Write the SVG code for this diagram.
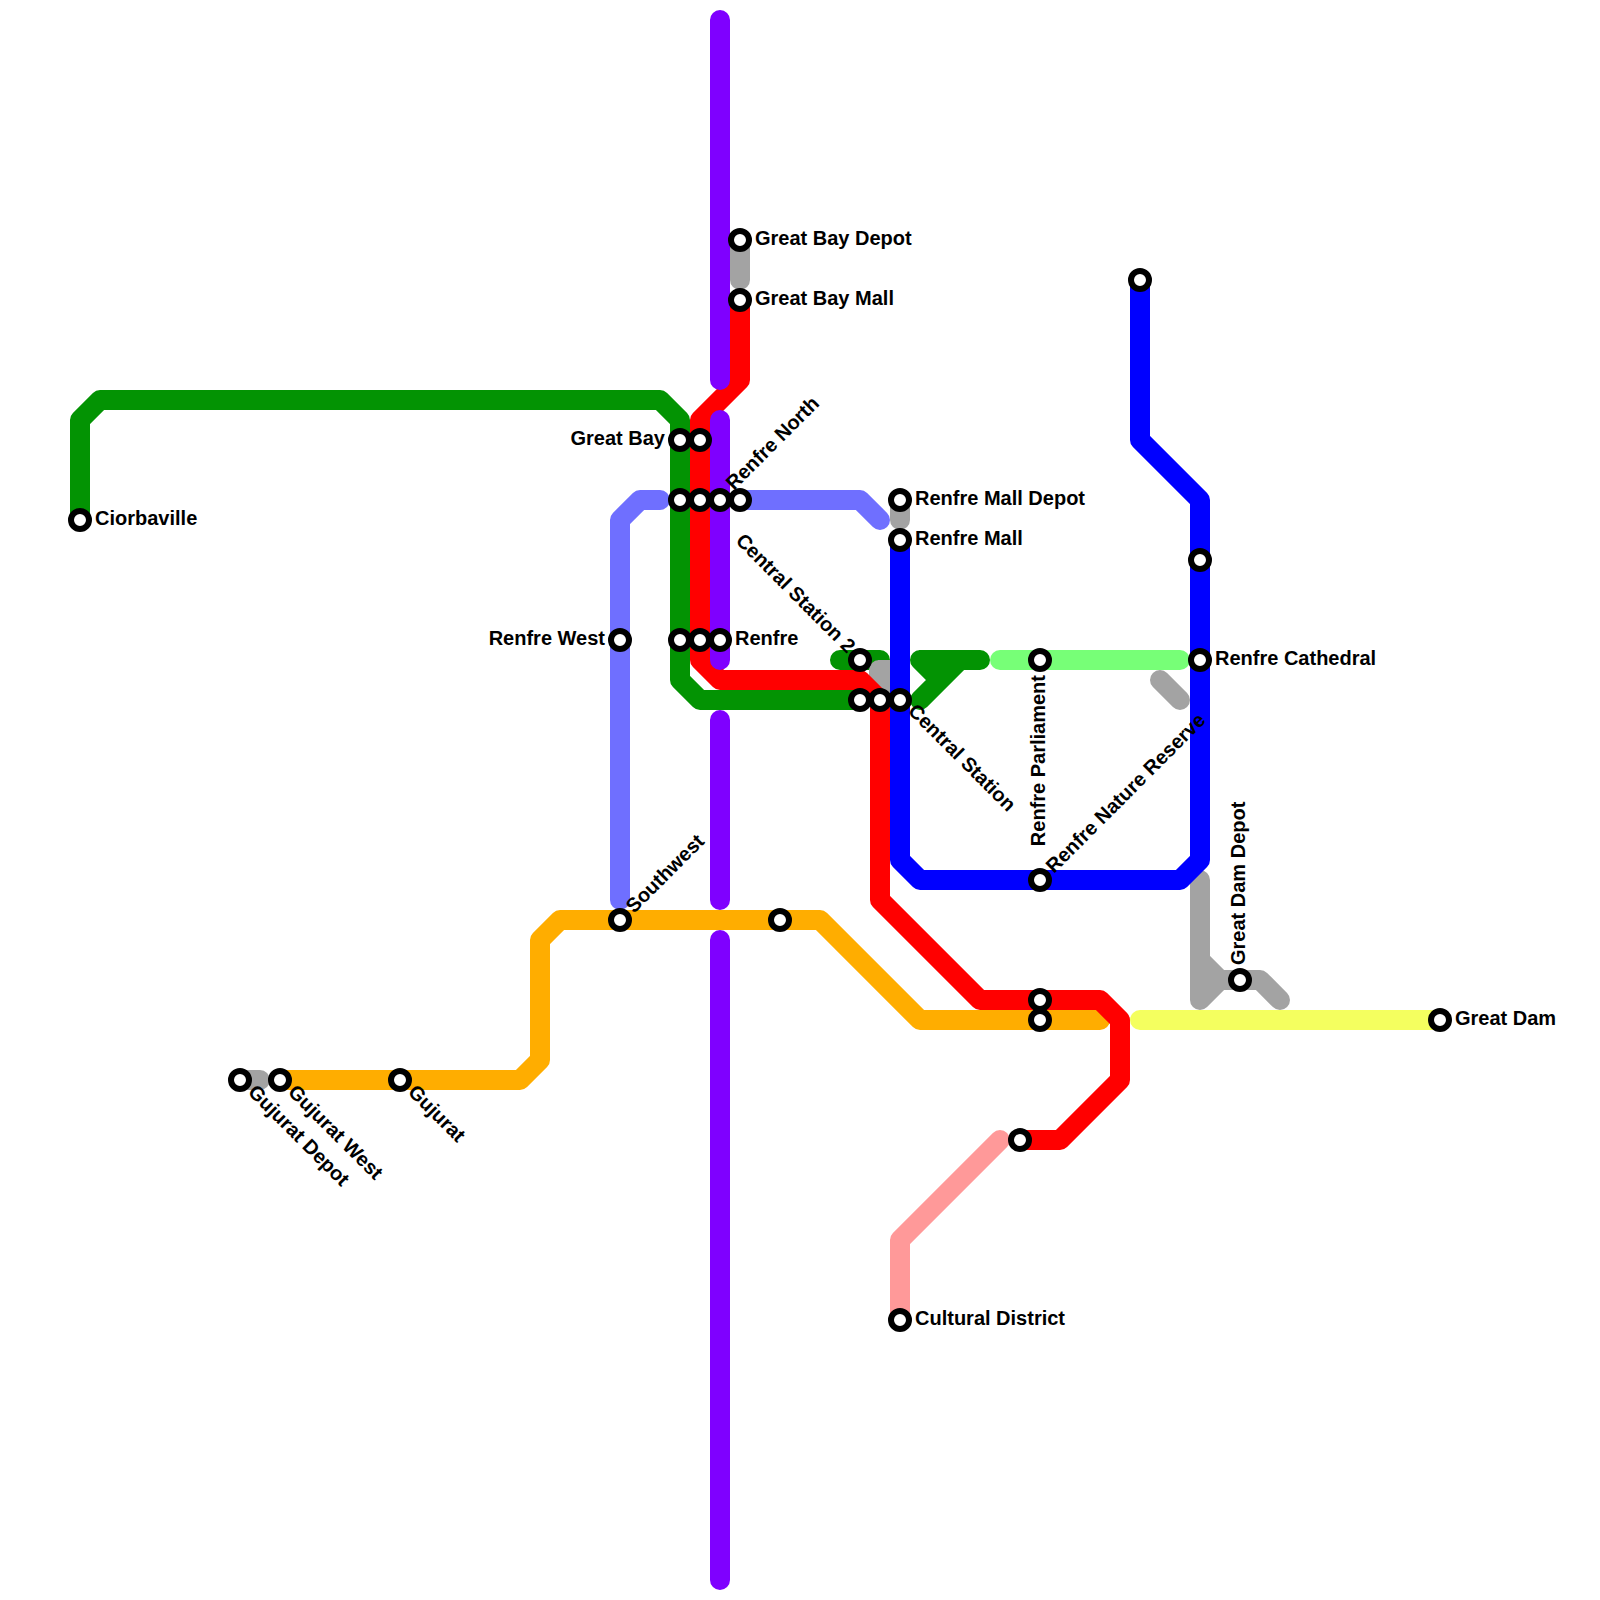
<svg xmlns="http://www.w3.org/2000/svg" width="1600" height="1600" viewBox="0 0 1600 1600">
<style>
.l{fill:none;stroke-width:20;stroke-linecap:round;stroke-linejoin:round}
.s{fill:#fff;stroke:#000;stroke-width:6}
text{font-family:"Liberation Sans",Arial,sans-serif;font-weight:bold;font-size:20px;fill:#000}
.e{text-anchor:end}
</style>
<rect width="1600" height="1600" fill="#fff"/>
<g id="connectors">
<path class="l" stroke="#039303" d="M80 520V420L100 400H660L680 420V680L700 700H860M840 660H880M920 660H980M920 660L940 680M920 700L960 660"/>
<path class="l" stroke="#a3a3a3" d="M740 240V280M900 500V520M240 1080H260M1160 680L1180 700M1200 880V1000L1220 980H1260L1280 1000M1200 960L1220 980M879 670V690M879 670L899 690M879 670H895"/>
<path class="l" stroke="#ff9999" d="M1000 1140L900 1240V1320"/>
<path class="l" stroke="#ffad00" d="M280 1080H520L540 1060V940L560 920H820L920 1020H1100"/>
<path class="l" stroke="#ff0000" d="M740 300V380L700 420V660L720 680H860L880 700V900L980 1000H1100L1120 1020V1080L1060 1140H1020"/>
<path class="l" stroke="#7f00ff" d="M720 20V380M720 420V660M720 720V900M720 940V1580"/>
<path class="l" stroke="#6f6fff" d="M620 900V520L640 500H660M740 500H860L880 520"/>
<path class="l" stroke="#0000ff" d="M900 540V860L920 880H1180L1200 860V500L1140 440V280"/>
<path class="l" stroke="#77ff77" d="M1000 660H1180"/>
<path class="l" stroke="#f4ff5f" d="M1140 1020H1440"/>
</g>
<g id="n-ciorbaville"><circle class="s" cx="80" cy="520" r="9"/><text x="95" y="525">Ciorbaville</text></g>
<g id="n-great-bay"><circle class="s" cx="680" cy="440" r="9"/><text class="e" x="665" y="445">Great Bay</text></g>
<g id="n-great-bay-2"><circle class="s" cx="700" cy="440" r="9"/></g>
<g id="n-a1"><circle class="s" cx="680" cy="500" r="9"/></g>
<g id="n-a2"><circle class="s" cx="700" cy="500" r="9"/></g>
<g id="n-a3"><circle class="s" cx="720" cy="500" r="9"/></g>
<g id="n-renfre-north"><circle class="s" cx="740" cy="500" r="9"/><text transform="translate(734 491) rotate(-45)">Renfre North</text></g>
<g id="n-b1"><circle class="s" cx="680" cy="640" r="9"/></g>
<g id="n-b2"><circle class="s" cx="700" cy="640" r="9"/></g>
<g id="n-renfre"><circle class="s" cx="720" cy="640" r="9"/><text x="735" y="645">Renfre</text></g>
<g id="n-renfre-west"><circle class="s" cx="620" cy="640" r="9"/><text class="e" x="605" y="645">Renfre West</text></g>
<g id="n-southwest"><circle class="s" cx="620" cy="920" r="9"/><text transform="translate(634 914) rotate(-45)">Southwest</text></g>
<g id="n-c1"><circle class="s" cx="780" cy="920" r="9"/></g>
<g id="n-great-bay-depot"><circle class="s" cx="740" cy="240" r="9"/><text x="755" y="245">Great Bay Depot</text></g>
<g id="n-great-bay-mall"><circle class="s" cx="740" cy="300" r="9"/><text x="755" y="305">Great Bay Mall</text></g>
<g id="n-central-2"><circle class="s" cx="860" cy="660" r="9"/><text class="e" transform="translate(847 654) rotate(45)">Central Station 2</text></g>
<g id="n-d1"><circle class="s" cx="860" cy="700" r="9"/></g>
<g id="n-d2"><circle class="s" cx="880" cy="700" r="9"/></g>
<g id="n-central"><circle class="s" cx="900" cy="700" r="9"/><text transform="translate(907 712) rotate(45)">Central Station</text></g>
<g id="n-renfre-mall-depot"><circle class="s" cx="900" cy="500" r="9"/><text x="915" y="505">Renfre Mall Depot</text></g>
<g id="n-renfre-mall"><circle class="s" cx="900" cy="540" r="9"/><text x="915" y="545">Renfre Mall</text></g>
<g id="n-parliament"><circle class="s" cx="1040" cy="660" r="9"/><text class="e" transform="translate(1045 675) rotate(-90)">Renfre Parliament</text></g>
<g id="n-nature"><circle class="s" cx="1040" cy="880" r="9"/><text transform="translate(1054 874) rotate(-45)">Renfre Nature Reserve</text></g>
<g id="n-e1"><circle class="s" cx="1040" cy="1000" r="9"/></g>
<g id="n-e2"><circle class="s" cx="1040" cy="1020" r="9"/></g>
<g id="n-blue-top"><circle class="s" cx="1140" cy="280" r="9"/></g>
<g id="n-f1"><circle class="s" cx="1200" cy="560" r="9"/></g>
<g id="n-cathedral"><circle class="s" cx="1200" cy="660" r="9"/><text x="1215" y="665">Renfre Cathedral</text></g>
<g id="n-great-dam-depot"><circle class="s" cx="1240" cy="980" r="9"/><text transform="translate(1245 965) rotate(-90)">Great Dam Depot</text></g>
<g id="n-great-dam"><circle class="s" cx="1440" cy="1020" r="9"/><text x="1455" y="1025">Great Dam</text></g>
<g id="n-g1"><circle class="s" cx="1020" cy="1140" r="9"/></g>
<g id="n-cultural"><circle class="s" cx="900" cy="1320" r="9"/><text x="915" y="1325">Cultural District</text></g>
<g id="n-gujurat-depot"><circle class="s" cx="240" cy="1080" r="9"/><text transform="translate(247 1093) rotate(45)">Gujurat Depot</text></g>
<g id="n-gujurat-west"><circle class="s" cx="280" cy="1080" r="9"/><text transform="translate(287 1093) rotate(45)">Gujurat West</text></g>
<g id="n-gujurat"><circle class="s" cx="400" cy="1080" r="9"/><text transform="translate(407 1093) rotate(45)">Gujurat</text></g>
</svg>
